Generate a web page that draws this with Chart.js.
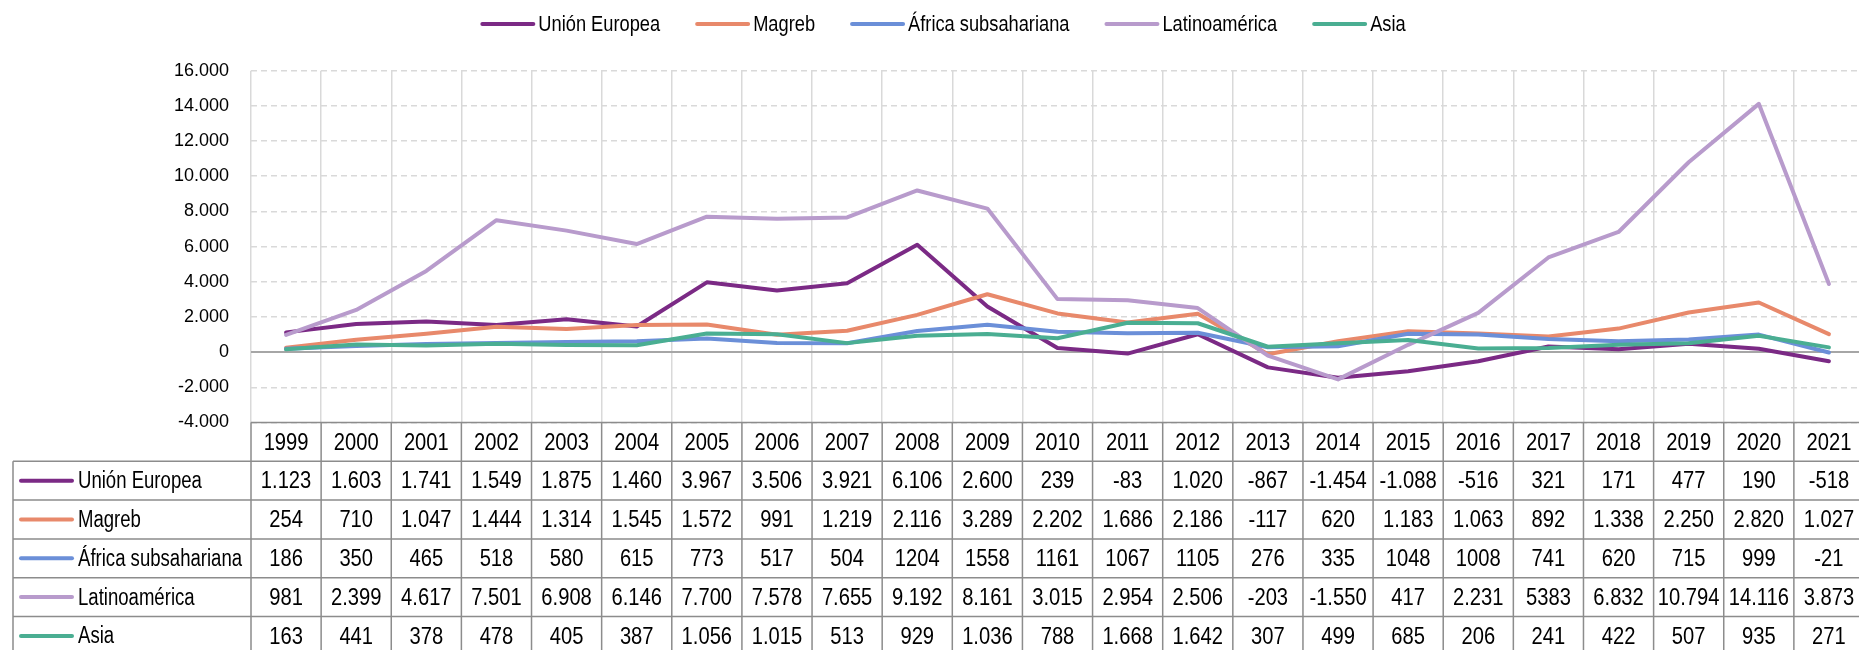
<!DOCTYPE html>
<html>
<head>
<meta charset="utf-8">
<script src="https://cdn.jsdelivr.net/npm/chart.js@4.4.0/dist/chart.umd.min.js"></script>
<style>
  html, body { margin: 0; padding: 0; background: #fff; overflow: hidden; }
  #wrap { width: 1866px; height: 660px; }
</style>
</head>
<body>
<div id="wrap"><canvas id="grafico" width="1866" height="660"></canvas></div>
<script>
// Datos (texto tal como aparece en la tabla)
const anos = ['1999', '2000', '2001', '2002', '2003', '2004', '2005', '2006', '2007', '2008', '2009', '2010',
  '2011', '2012', '2013', '2014', '2015', '2016', '2017', '2018', '2019', '2020', '2021'];

const textoUE = ['1.123', '1.603', '1.741', '1.549', '1.875', '1.460', '3.967', '3.506', '3.921', '6.106', '2.600', '239',
  '-83', '1.020', '-867', '-1.454', '-1.088', '-516', '321', '171', '477', '190', '-518'];
const textoMagreb = ['254', '710', '1.047', '1.444', '1.314', '1.545', '1.572', '991', '1.219', '2.116', '3.289', '2.202',
  '1.686', '2.186', '-117', '620', '1.183', '1.063', '892', '1.338', '2.250', '2.820', '1.027'];
const textoAfrica = ['186', '350', '465', '518', '580', '615', '773', '517', '504', '1204', '1558', '1161',
  '1067', '1105', '276', '335', '1048', '1008', '741', '620', '715', '999', '-21'];
const textoLatam = ['981', '2.399', '4.617', '7.501', '6.908', '6.146', '7.700', '7.578', '7.655', '9.192', '8.161', '3.015',
  '2.954', '2.506', '-203', '-1.550', '417', '2.231', '5383', '6.832', '10.794', '14.116', '3.873'];
const textoAsia = ['163', '441', '378', '478', '405', '387', '1.056', '1.015', '513', '929', '1.036', '788',
  '1.668', '1.642', '307', '499', '685', '206', '241', '422', '507', '935', '271'];

const series = [
  { nome: 'Unión Europea', textos: textoUE, cor: '#7b2a85' },
  { nome: 'Magreb', textos: textoMagreb, cor: '#e8896b' },
  { nome: 'África subsahariana', textos: textoAfrica, cor: '#6b8fd8' },
  { nome: 'Latinoamérica', textos: textoLatam, cor: '#b89bcc' },
  { nome: 'Asia', textos: textoAsia, cor: '#4aae92' },
];

const FONTE = "'Liberation Sans', Arial, sans-serif";
// factores de estrechamiento (simulan una fuente condensada)
const ESTREITO_LEGENDA = 0.83;
const ESTREITO_NUMEROS = 0.84;
const ESTREITO_NOMES = 0.79;

function paraNumero(s) {
  return Number(s.replace(/\./g, ''));
}

function formatarMilhar(v) {
  const s = String(Math.abs(v)).replace(/\B(?=(\d{3})+(?!\d))/g, '.');
  return (v < 0 ? '-' : '') + s;
}

function larguraEstreita(ctx, texto, f) {
  return ctx.measureText(texto).width * f;
}

function escreverEstreito(ctx, texto, x, y, alinhamento, f) {
  let x0 = x;
  if (alinhamento === 'center') x0 = x - larguraEstreita(ctx, texto, f) / 2;
  ctx.save();
  ctx.translate(x0, y);
  ctx.scale(f, 1);
  ctx.textAlign = 'left';
  ctx.fillText(texto, 0, 0);
  ctx.restore();
}

// Leyenda superior
const pluginLegenda = {
  id: 'legenda',
  afterDraw(chart) {
    const ctx = chart.ctx;
    const f = ESTREITO_LEGENDA;
    ctx.save();
    ctx.font = '22px ' + FONTE;
    const linha = 55, folga = 3, entre = 35;
    let total = 0;
    series.forEach((s, i) => {
      total += linha + folga + larguraEstreita(ctx, s.nome, f) + (i < series.length - 1 ? entre : 0);
    });
    let x = 943 - total / 2;
    const y = 24;
    ctx.textBaseline = 'middle';
    ctx.fillStyle = '#000';
    ctx.lineCap = 'round';
    ctx.lineWidth = 4;
    series.forEach(s => {
      ctx.strokeStyle = s.cor;
      ctx.beginPath();
      ctx.moveTo(x + 2, y);
      ctx.lineTo(x + linha - 2, y);
      ctx.stroke();
      x += linha + folga;
      escreverEstreito(ctx, s.nome, x, y + 1, 'left', f);
      x += larguraEstreita(ctx, s.nome, f) + entre;
    });
    ctx.restore();
  }
};

// Tabla de datos bajo el gráfico
const pluginTabela = {
  id: 'tabela',
  afterDraw(chart) {
    const { ctx, chartArea, scales: { x } } = chart;
    const larg = x.getPixelForValue(1) - x.getPixelForValue(0);
    const topo = chartArea.bottom;
    const altLinha = 38.8;
    const base = topo + altLinha * 6;
    const esquerda = 13;

    ctx.save();
    ctx.strokeStyle = '#8c8c8c';
    ctx.lineWidth = 1.5;
    ctx.beginPath();
    ctx.moveTo(chartArea.left, topo);
    ctx.lineTo(chartArea.right, topo);
    for (let k = 1; k <= 6; k++) {
      ctx.moveTo(esquerda, topo + k * altLinha);
      ctx.lineTo(chartArea.right, topo + k * altLinha);
    }
    for (let i = 0; i <= anos.length; i++) {
      const xx = x.getPixelForValue(0) - larg / 2 + i * larg;
      ctx.moveTo(xx, topo);
      ctx.lineTo(xx, base);
    }
    ctx.moveTo(esquerda, topo + altLinha);
    ctx.lineTo(esquerda, base);
    ctx.stroke();

    ctx.font = '24px ' + FONTE;
    ctx.fillStyle = '#000';
    ctx.textBaseline = 'middle';
    anos.forEach((a, i) => {
      escreverEstreito(ctx, a, x.getPixelForValue(i), topo + altLinha / 2 + 1, 'center', ESTREITO_NUMEROS);
    });
    series.forEach((s, r) => {
      const yc = topo + altLinha * (r + 1.5) + 1;
      s.textos.forEach((t, i) => {
        escreverEstreito(ctx, t, x.getPixelForValue(i), yc, 'center', ESTREITO_NUMEROS);
      });
    });

    // nombres de las series con su línea
    ctx.font = '23.5px ' + FONTE;
    ctx.lineCap = 'round';
    ctx.lineWidth = 4;
    series.forEach((s, r) => {
      const yc = topo + altLinha * (r + 1.5);
      ctx.strokeStyle = s.cor;
      ctx.beginPath();
      ctx.moveTo(21, yc);
      ctx.lineTo(72, yc);
      ctx.stroke();
      escreverEstreito(ctx, s.nome, 78, yc + 1, 'left', ESTREITO_NOMES);
    });
    ctx.restore();
  }
};

const ctx = document.getElementById('grafico').getContext('2d');

new Chart(ctx, {
  type: 'line',
  data: {
    labels: anos,
    datasets: series.map((s, i) => ({
      label: s.nome,
      data: s.textos.map(paraNumero),
      borderColor: s.cor,
      backgroundColor: s.cor,
      order: series.length - i,
    })),
  },
  options: {
    responsive: false,
    animation: false,
    layout: { padding: { left: 0, top: 70.7, right: 2, bottom: 237.5 } },
    plugins: {
      legend: { display: false },
      tooltip: { enabled: false },
    },
    elements: {
      point: { radius: 0 },
      line: { borderWidth: 4, tension: 0, borderJoinStyle: 'round', borderCapStyle: 'round', fill: false },
    },
    scales: {
      x: {
        offset: true,
        grid: { offset: true, color: '#d9d9d9', lineWidth: 1.5, drawTicks: false },
        border: { display: false },
        ticks: { display: false },
        afterFit: s => { s.height = 0; },
      },
      y: {
        min: -4000,
        max: 16000,
        ticks: {
          stepSize: 2000,
          padding: 22,
          color: '#000',
          font: { family: FONTE, size: 18 },
          callback: v => formatarMilhar(v),
        },
        grid: {
          color: c => (c.tick && c.tick.value === 0 ? '#a6a6a6' : '#d9d9d9'),
          lineWidth: c => (c.tick && c.tick.value === 0 ? 2 : 1.5),
          drawTicks: false,
        },
        border: {
          display: false,
          dash: c => (c.tick && c.tick.value === 0 ? [] : [6, 4]),
        },
        afterFit: s => { s.width = 251; },
      },
    },
  },
  plugins: [pluginLegenda, pluginTabela],
});
</script>
</body>
</html>
